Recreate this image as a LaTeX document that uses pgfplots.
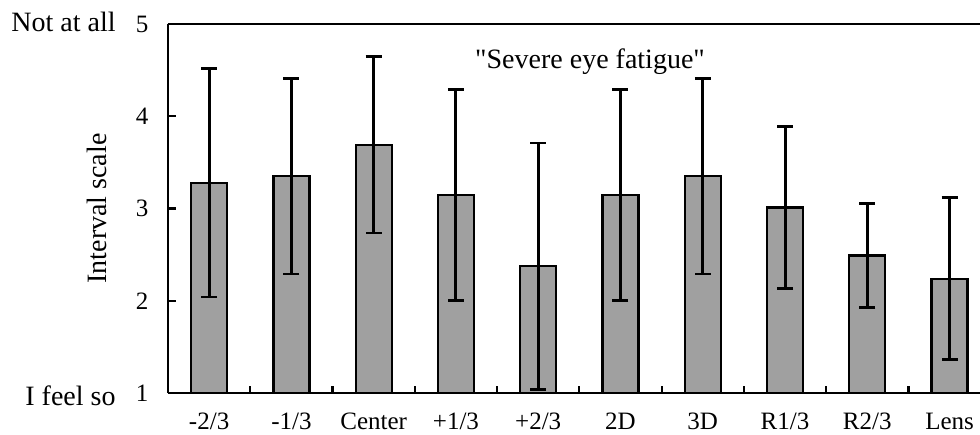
\documentclass[border=0pt]{standalone}
\usepackage{pgfplots}
\pgfplotsset{compat=1.18}
\usepackage{pgfplotstable}
\usepackage{fontspec}
\setmainfont{Liberation Serif}[Ligatures=TeXOff]
\definecolor{barfill}{RGB}{160,160,160}
\pgfplotstableread{
x y e
0 3.28 1.24
1 3.35 1.06
2 3.69 0.955
3 3.145 1.145
4 2.375 1.335
5 3.145 1.145
6 3.35 1.06
7 3.01 0.88
8 2.49 0.565
9 2.24 0.88
}\datatable
\begin{document}
\begin{tikzpicture}
\begin{axis}[
  scale only axis, width=406pt, height=184.5pt,
  xmin=-0.5, xmax=9.37, ymin=1, ymax=5,
  axis x line*=box, axis y line*=left,
  axis line style={line width=1.1pt, black},
  xtick={0,...,9},
  xticklabels={-2/3,-1/3,Center,+1/3,+2/3,2D,3D,R1/3,R2/3,Lens},
  minor xtick={0.5,1.5,...,8.5},
  every major x tick/.append style={draw=none},
  ytick={1,2,3,4,5},
  xtick pos=left, ytick pos=left,
  tick align=inside,
  major tick length=4pt, minor tick length=3.5pt,
  every tick/.append style={line width=1.1pt, black},
  tick label style={font=\fontsize{12.5}{14}\selectfont},
  /pgf/number format/assume math mode=true,
  xticklabel style={yshift=-6.5pt},
  yticklabel style={xshift=-6.3pt},
  ylabel={Interval scale},
  ylabel style={at={(axis description cs:-0.0874,0.5)}, anchor=center, font=\fontsize{14}{16}\selectfont},
]
\addplot[ybar, bar width=18pt, bar shift=0pt, fill=barfill, draw=black, line width=1.1pt]
  table[x=x, y=y] {\datatable};
\addplot[only marks, mark=*, mark size=0pt, mark options={draw=none, fill=none}, forget plot,
  error bars/.cd, y dir=both, y explicit,
  error bar style={draw=black, line width=1.5pt},
  error mark options={draw=black, line width=1.3pt, mark size=4pt, rotate=90}]
  table[x=x, y=y, y error=e] {\datatable};
\node[font=\fontsize{14}{16}\selectfont, inner sep=0] at (axis cs:4.63,4.59) {"Severe eye fatigue"};
\end{axis}
\node[anchor=base east, inner sep=0, font=\fontsize{14}{16}\selectfont] at ([xshift=-26pt,yshift=-3.85pt]current axis.north west) {Not at all};
\node[anchor=base east, inner sep=0, font=\fontsize{14}{16}\selectfont] at ([xshift=-26pt,yshift=-6pt]current axis.south west) {I feel so};
\pgfresetboundingbox
\path[use as bounding box] ([xshift=-84pt,yshift=-20.5pt]current axis.south west) rectangle ([yshift=12pt]current axis.north east);
\end{tikzpicture}
\end{document}
